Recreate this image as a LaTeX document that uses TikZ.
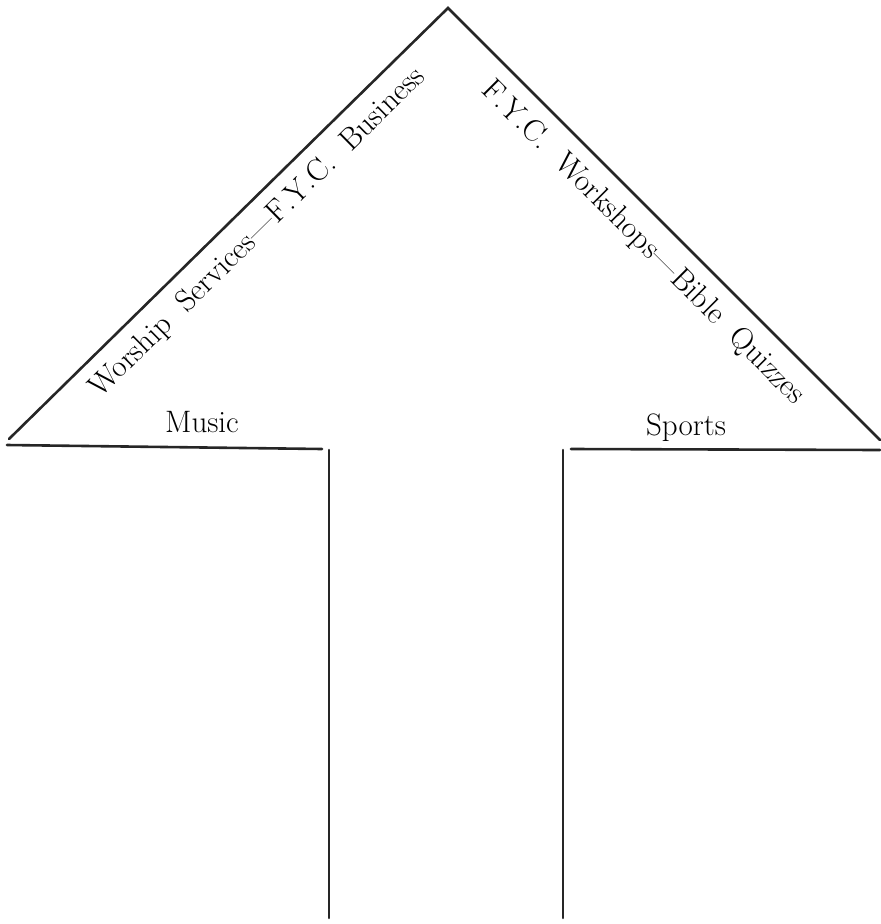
\documentclass[tikz,border=0pt]{standalone}
\usepackage{tikz}
\usetikzlibrary{calc}
\tikzset{
	aedge/.style={draw=black!85,line width=2.6pt,line cap=round},
	slopelabel/.style={font=\fontsize{31}{34}\selectfont,inner sep=0pt},
	baselabel/.style={font=\fontsize{31}{34}\selectfont,inner sep=0pt,anchor=base}
}
\begin{document}
\begin{tikzpicture}[x=1pt,y=-1pt]
	\useasboundingbox (0,0) rectangle (881,924);
	\coordinate (apex) at (448,8);
	\coordinate (ltip) at (9,439);
	\coordinate (rtip) at (880,440);
	\coordinate (lbase) at (7,445);
	\coordinate (lcorner) at (322,449);
	\coordinate (rcorner) at (571,449);
	\coordinate (rbase) at (880,450);
	\coordinate (ltop) at (329,450);
	\coordinate (lbot) at (329,918);
	\coordinate (rtop) at (563,450);
	\coordinate (rbot) at (563,918);
	\draw[aedge] (ltip) -- (apex) -- (rtip);
	\draw[aedge] (lbase) -- (lcorner);
	\draw[aedge] (rcorner) -- (rbase);
	\draw[aedge] (ltop) -- (lbot);
	\draw[aedge] (rtop) -- (rbot);
	\node[slopelabel,rotate=44.5] (worship) at (258,233) {Worship\ \ Services---F.Y.C.\ \ Business};
	\node[slopelabel,rotate=-45] (workshops) at (643,243) {F.Y.C.\ \ Workshops---Bible\ \ Quizzes};
	\node[baselabel] (music) at (202,432) {Music};
	\node[baselabel] (sports) at (686,435) {Sports};
\end{tikzpicture}
\end{document}
